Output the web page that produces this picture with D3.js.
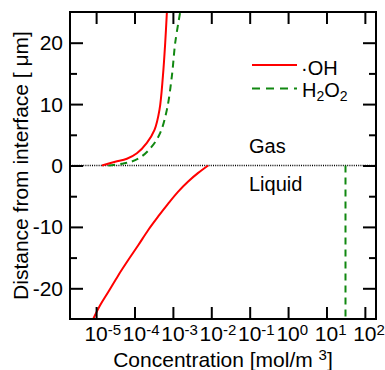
<!DOCTYPE html>
<html>
<head>
<meta charset="utf-8">
<script src="https://cdn.jsdelivr.net/npm/d3@7"></script>
<style>
  body { margin: 0; background: #fff; }
  svg text { font-family: "Liberation Sans", Arial, sans-serif; fill: #000; }
</style>
</head>
<body>
<div id="chart"></div>
<script>
// data: concentration [mol/m3] vs distance [um]
const ohGasConc = [1.42e-5, 3.14e-5, 6.34e-5, 1.155e-4, 2.10e-4, 3.32e-4, 4.48e-4, 5.50e-4, 6.31e-4, 6.98e-4];
const ohGasDist = [0, 0.6, 1.1, 2.0, 3.7, 5.8, 9.1, 14.6, 20, 25];
const h2o2GasConc = [2.07e-5, 4.70e-5, 8.55e-5, 1.56e-4, 2.84e-4, 4.67e-4, 6.98e-4, 9.42e-4, 1.15e-3, 1.55e-3];
const h2o2GasDist = [0, 0.28, 0.65, 1.5, 3.1, 5.3, 9.1, 14.6, 20, 25];
const ohLiqConc = [8.30e-3, 4.56e-3, 2.50e-3, 1.374e-3, 7.55e-4, 4.14e-4, 2.28e-4, 1.25e-4, 6.86e-5, 3.77e-5, 2.07e-5, 1.26e-5, 8.4e-6];
const ohLiqDist = [0, -1.2, -2.6, -4.25, -6.2, -8.3, -10.5, -13.0, -15.4, -17.9, -20.6, -22.8, -25];
const h2o2LiqConc = [31.3, 31.3];
const h2o2LiqDist = [0, -25];

const xTickExp = [-5, -4, -3, -2, -1, 0, 1, 2];
const yMajor = [-20, -10, 0, 10, 20];
const yMinor = [-15, -5, 5, 15];

const W = 385, H = 370;
const plot = {left: 70, right: 376, top: 12, bottom: 319};
const fs = 20;

const svg = d3.select('#chart').append('svg')
  .attr('width', W).attr('height', H);

const x = d3.scaleLog().domain([Math.pow(10, -5.68), Math.pow(10, 2.29)]).range([plot.left, plot.right]);
const y = d3.scaleLinear().domain([-25, 25]).range([plot.bottom, plot.top]);

const zip = (xs, ys) => xs.map((v, i) => [v, ys[i]]);
const line = d3.line().x(d => x(d[0])).y(d => y(d[1])).curve(d3.curveCatmullRom);

// interface line
svg.append('line')
  .attr('x1', plot.left).attr('x2', plot.right).attr('y1', y(0)).attr('y2', y(0))
  .attr('stroke', '#000').attr('stroke-width', 1.5).attr('stroke-dasharray', '1,1.2');

// H2O2 (green dashed)
[zip(h2o2GasConc, h2o2GasDist), zip(h2o2LiqConc, h2o2LiqDist)].forEach(d => {
  svg.append('path').datum(d)
    .attr('fill', 'none').attr('stroke', '#118811').attr('stroke-width', 2)
    .attr('stroke-dasharray', '7,5').attr('d', line);
});
// OH (red)
[zip(ohGasConc, ohGasDist), zip(ohLiqConc, ohLiqDist)].forEach(d => {
  svg.append('path').datum(d)
    .attr('fill', 'none').attr('stroke', '#ff0000').attr('stroke-width', 2)
    .attr('d', line);
});

// axes, ticks inward
const xVals = xTickExp.map(e => Math.pow(10, e));
svg.append('g').attr('transform', 'translate(0,' + plot.bottom + ')')
  .call(d3.axisBottom(x).tickValues(xVals).tickSize(-12).tickFormat(''));
svg.append('g').attr('transform', 'translate(0,' + plot.top + ')')
  .call(d3.axisTop(x).tickValues(xVals).tickSize(-12).tickFormat(''));
svg.append('g').attr('transform', 'translate(' + plot.left + ',0)')
  .call(d3.axisLeft(y).tickValues(yMajor).tickSize(-13).tickFormat(''));
svg.append('g').attr('transform', 'translate(' + plot.left + ',0)')
  .call(d3.axisLeft(y).tickValues(yMinor).tickSize(-7).tickFormat(''));
svg.append('g').attr('transform', 'translate(' + plot.right + ',0)')
  .call(d3.axisRight(y).tickValues(yMajor).tickSize(-13).tickFormat(''));
svg.append('g').attr('transform', 'translate(' + plot.right + ',0)')
  .call(d3.axisRight(y).tickValues(yMinor).tickSize(-7).tickFormat(''));
svg.selectAll('.domain').remove();
svg.selectAll('.tick line').attr('stroke', '#000').attr('stroke-width', 2);

// frame
svg.append('rect')
  .attr('x', plot.left).attr('y', plot.top)
  .attr('width', plot.right - plot.left).attr('height', plot.bottom - plot.top)
  .attr('fill', 'none').attr('stroke', '#000').attr('stroke-width', 2);

// y tick labels
svg.selectAll('.ylab').data(yMajor).enter().append('text')
  .attr('x', plot.left - 7).attr('y', d => y(d)).attr('dy', '0.36em')
  .attr('text-anchor', 'end').attr('font-size', fs + 1).text(d => d);

// x tick labels 10^n
xTickExp.forEach(e => {
  const t = svg.append('text')
    .attr('x', x(Math.pow(10, e)) - 0.556 * (fs + 1)).attr('y', 341)
    .attr('font-size', fs + 1);
  t.append('tspan').text('10');
  t.append('tspan').attr('font-size', 15).attr('dy', -6).text(e);
});

// axis titles
const xt = svg.append('text')
  .attr('x', (plot.left + plot.right) / 2).attr('y', 367)
  .attr('text-anchor', 'middle').attr('font-size', fs + 1);
xt.append('tspan').text('Concentration [mol/m ');
xt.append('tspan').attr('font-size', 15).attr('dy', -7).text('3');
xt.append('tspan').attr('dy', 7).text(']');

svg.append('text')
  .attr('transform', 'translate(28,' + ((plot.top + plot.bottom) / 2) + ') rotate(-90)')
  .attr('text-anchor', 'middle').attr('font-size', fs + 1)
  .text('Distance from interface [ \u03bcm]');

// phase labels
svg.append('text').attr('x', 249).attr('y', 153).attr('font-size', fs).text('Gas');
svg.append('text').attr('x', 249).attr('y', 191).attr('font-size', fs).text('Liquid');

// legend
svg.append('line').attr('x1', 252).attr('x2', 297).attr('y1', 65).attr('y2', 65)
  .attr('stroke', '#ff0000').attr('stroke-width', 2);
svg.append('text').attr('x', 301).attr('y', 75).attr('font-size', fs).text('\u00b7OH');
svg.append('line').attr('x1', 252).attr('x2', 297).attr('y1', 88.5).attr('y2', 88.5)
  .attr('stroke', '#118811').attr('stroke-width', 2).attr('stroke-dasharray', '8,6');
const lg = svg.append('text').attr('x', 302).attr('y', 97).attr('font-size', fs);
lg.append('tspan').text('H');
lg.append('tspan').attr('font-size', 14).attr('dy', 4).text('2');
lg.append('tspan').attr('dy', -4).text('O');
lg.append('tspan').attr('font-size', 14).attr('dy', 4).text('2');
</script>
</body>
</html>
